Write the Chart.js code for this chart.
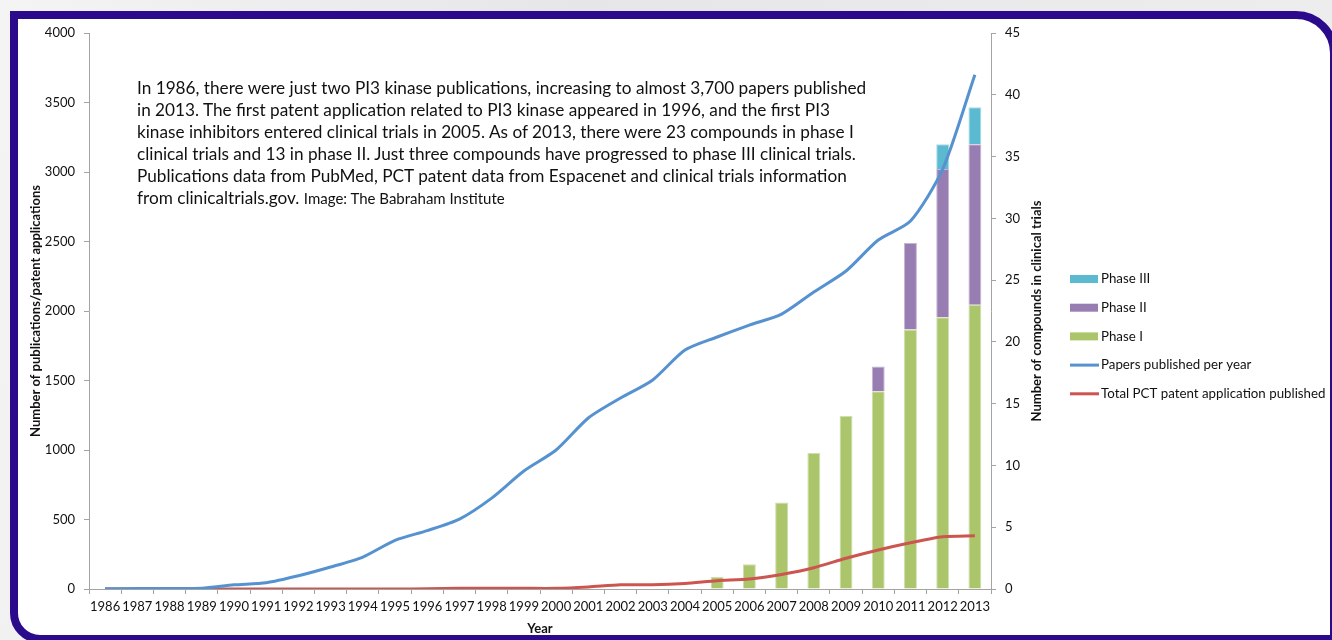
<!DOCTYPE html>
<html>
<head>
<meta charset="utf-8">
<script src="https://cdn.jsdelivr.net/npm/chart.js@4.4.1/dist/chart.umd.min.js"></script>
<style>
  html, body { margin: 0; padding: 0; }
  body { width: 1332px; height: 640px; overflow: hidden; position: relative;
         background: linear-gradient(100deg, #f4f4f5 0%, #e6e6e8 40%, #eeeeef 100%); }
  #frame { position: absolute; left: 10px; top: 11px; width: 1328px; height: 632px;
           box-sizing: border-box; border: 8px solid #2b0a8b; border-radius: 0 42px 0 30px;
           background: #fff; }
  #wrap { position: absolute; left: 0; top: 0; width: 1332px; height: 640px; }
  #note { position: absolute; left: 137px; top: 77px; font-family: Lato, sans-serif;
          font-size: 17.2px; line-height: 22px; color: #111; white-space: pre; }
  #note small { font-size: 15px; }
</style>
</head>
<body>
<div id="frame"></div>
<div id="wrap"><canvas id="pi3Chart"></canvas></div>
<div id="note">In 1986, there were just two PI3 kinase publications, increasing to almost 3,700 papers published
in 2013. The first patent application related to PI3 kinase appeared in 1996, and the first PI3
kinase inhibitors entered clinical trials in 2005. As of 2013, there were 23 compounds in phase I
clinical trials and 13 in phase II. Just three compounds have progressed to phase III clinical trials.
Publications data from PubMed, PCT patent data from Espacenet and clinical trials information
from clinicaltrials.gov. <small>Image: The Babraham Institute</small></div>
<script>
const years = ['1986','1987','1988','1989','1990','1991','1992','1993','1994','1995',
  '1996','1997','1998','1999','2000','2001','2002','2003','2004','2005',
  '2006','2007','2008','2009','2010','2011','2012','2013'];

const papers = [2, 3, 4, 6, 30, 45, 95, 158, 230, 350,
  420, 503, 654, 849, 1000, 1230, 1374, 1504, 1719, 1813,
  1899, 1978, 2137, 2288, 2511, 2647, 3020, 3700];

const patents = [0, 0, 0, 0, 0, 0, 0, 0, 0, 0,
  1, 5, 5, 5, 5, 15, 30, 30, 40, 60,
  72, 105, 153, 221, 281, 333, 376, 383];

const phase1 = [null, null, null, null, null, null, null, null, null, null,
  null, null, null, null, null, null, null, null, null, 1,
  2, 7, 11, 14, 16, 21, 22, 23];
const phase2 = [null, null, null, null, null, null, null, null, null, null,
  null, null, null, null, null, null, null, null, null, null,
  null, null, null, null, 2, 7, 12, 13];
const phase3 = [null, null, null, null, null, null, null, null, null, null,
  null, null, null, null, null, null, null, null, null, null,
  null, null, null, null, null, null, 2, 3];

const leftTicks = [0, 500, 1000, 1500, 2000, 2500, 3000, 3500, 4000];
const rightTicks = [0, 5, 10, 15, 20, 25, 30, 35, 40, 45];

const axisGray = '#a3a3a3';
const tickFont = { family: 'Lato, sans-serif', size: 13 };
const titleFont = { family: 'Lato, sans-serif', size: 13, weight: 'bold' };

// legend on the right, drawn by hand so it sits where the original one does
const legendPlugin = {
    id: 'sideLegend',
    afterDraw(chart) {
        const ctx = chart.ctx;
        const ds = chart.data.datasets;
        const order = [4, 3, 2, 0, 1];
        ctx.save();
        ctx.font = '13.3px Lato, sans-serif';
        ctx.textBaseline = 'middle';
        order.forEach((i, n) => {
            const y = 279 + n * 28.7;
            const d = ds[i];
            if (d.type === 'line') {
                ctx.strokeStyle = d.borderColor;
                ctx.lineWidth = 3;
                ctx.beginPath();
                ctx.moveTo(1070, y);
                ctx.lineTo(1099, y);
                ctx.stroke();
            } else {
                ctx.fillStyle = d.backgroundColor;
                ctx.fillRect(1070, y - 4, 28, 8);
            }
            ctx.fillStyle = '#111';
            ctx.fillText(d.label, 1101, y);
        });
        // right axis title reads bottom-to-top like the left one
        const area = chart.chartArea;
        ctx.translate(1037, (area.top + area.bottom) / 2);
        ctx.rotate(-Math.PI / 2);
        ctx.font = 'bold 13px Lato, sans-serif';
        ctx.textAlign = 'center';
        ctx.fillStyle = '#111';
        ctx.fillText('Number of compounds in clinical trials', 0, 0);
        ctx.restore();
    }
};

const ctx = document.getElementById('pi3Chart').getContext('2d');
new Chart(ctx, {
    type: 'bar',
    data: {
        labels: years,
        datasets: [
            {
                type: 'line', label: 'Papers published per year', data: papers,
                yAxisID: 'y', borderColor: '#5592cf', borderWidth: 3,
                pointRadius: 0, tension: 0.25, order: 0
            },
            {
                type: 'line', label: 'Total PCT patent application published', data: patents,
                yAxisID: 'y', borderColor: '#cc5550', borderWidth: 3,
                pointRadius: 0, tension: 0.25, order: 0
            },
            {
                label: 'Phase I', data: phase1, yAxisID: 'y1', stack: 'trials',
                backgroundColor: '#abc56b', borderColor: '#cfddb0', borderWidth: 1, order: 1,
                barPercentage: 0.5, categoryPercentage: 0.8
            },
            {
                label: 'Phase II', data: phase2, yAxisID: 'y1', stack: 'trials',
                backgroundColor: '#977db2', borderColor: '#c4b5d4', borderWidth: 1, order: 1,
                barPercentage: 0.5, categoryPercentage: 0.8
            },
            {
                label: 'Phase III', data: phase3, yAxisID: 'y1', stack: 'trials',
                backgroundColor: '#5bbad0', borderColor: '#a5dbe8', borderWidth: 1, order: 1,
                barPercentage: 0.5, categoryPercentage: 0.8
            }
        ]
    },
    options: {
        responsive: true,
        maintainAspectRatio: false,
        animation: false,
        layout: { padding: { top: 33, left: 0, right: 281, bottom: 0 } },
        plugins: {
            legend: { display: false },
            tooltip: { enabled: false }
        },
        scales: {
            x: {
                stacked: true,
                afterFit: s => { s.height = 51; },
                border: { color: axisGray },
                grid: { drawOnChartArea: false, tickLength: 5, color: axisGray, offset: true },
                ticks: { autoSkip: false, maxRotation: 0, padding: 5, color: '#111', font: tickFont },
                title: { display: true, text: 'Year', color: '#111', font: titleFont,
                         padding: { top: 0, bottom: 3 } }
            },
            y: {
                position: 'left',
                min: 0, max: 4000,
                afterFit: s => { s.width = 89; },
                afterBuildTicks: s => { s.ticks = leftTicks.map(v => ({ value: v })); },
                border: { color: axisGray },
                grid: { drawOnChartArea: false, tickLength: 5, color: axisGray },
                ticks: { padding: 9, color: '#111', font: tickFont, callback: v => String(v) },
                title: { display: true, text: 'Number of publications/patent applications', color: '#111',
                         font: titleFont, padding: { top: 28, bottom: 0 } }
            },
            y1: {
                position: 'right',
                stacked: true,
                min: 0, max: 45,
                afterFit: s => { s.width = 60; },
                afterBuildTicks: s => { s.ticks = rightTicks.map(v => ({ value: v })); },
                border: { color: axisGray },
                grid: { drawOnChartArea: false, tickLength: 5, color: axisGray },
                ticks: { padding: 9, color: '#111', font: tickFont, callback: v => String(v) }
            }
        }
    },
    plugins: [legendPlugin]
});
</script>
</body>
</html>
